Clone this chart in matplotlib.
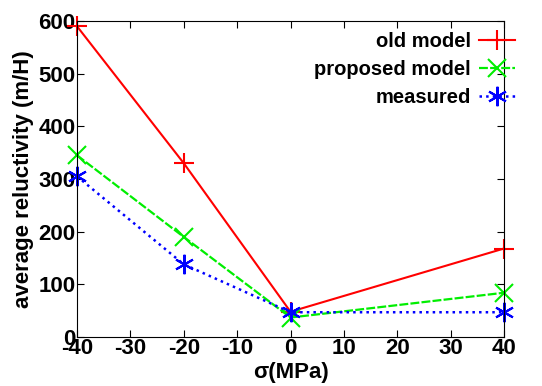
import matplotlib
matplotlib.use("Agg")
import matplotlib.pyplot as plt

sigma = [-40, -20, 0, 40]
old_model = [590, 330, 48, 168]
proposed_model = [345, 190, 37, 84]
measured = [305, 138, 47, 47]

plt.rcParams['font.family'] = ['Liberation Sans', 'DejaVu Sans']
plt.rcParams['font.weight'] = 'bold'
plt.rcParams['axes.unicode_minus'] = False

fig = plt.figure(figsize=(5.42, 3.86), dpi=100)
ax = fig.add_axes([77 / 542, 1 - 337 / 386, (504 - 77) / 542, (337 - 21) / 386])

ax.plot(sigma, old_model, color='red', linestyle='-', linewidth=1.5,
        marker='+', markersize=14, markeredgewidth=1.5, label='old model', clip_on=False)
ax.plot(sigma, proposed_model, color='#00ee00', linestyle='--', dashes=(4, 1), linewidth=1.6,
        marker='x', markersize=13, markeredgewidth=1.5, label='proposed model', clip_on=False)
ax.plot(sigma, measured, color='blue', linestyle=':', linewidth=1.8,
        marker=(6, 2, 0), markersize=14, markeredgewidth=1.5, label='measured', clip_on=False)

ax.set_xlim(-40, 40)
ax.set_ylim(0, 600)
ax.set_xticks(range(-40, 41, 10))
ax.set_yticks(range(0, 601, 100))
ax.tick_params(direction='in', top=True, right=True, length=5, labelsize=16, pad=1)
for lab in ax.get_xticklabels() + ax.get_yticklabels():
    lab.set_fontweight('bold')

ax.set_xlabel('σ(MPa)', fontsize=16, fontweight='bold', labelpad=2)
ax.set_ylabel('average reluctivity (m/H)', fontsize=16, fontweight='bold', labelpad=3)

ax.legend(loc='upper right', bbox_to_anchor=(515 / 542, 1 - 32 / 386),
          bbox_transform=fig.transFigure, frameon=False, markerfirst=False,
          handlelength=1.8, handletextpad=0.4, labelspacing=0.45,
          borderaxespad=0, borderpad=0, prop={'weight': 'bold', 'size': 14.5})

fig.savefig('out.png', dpi=100)
